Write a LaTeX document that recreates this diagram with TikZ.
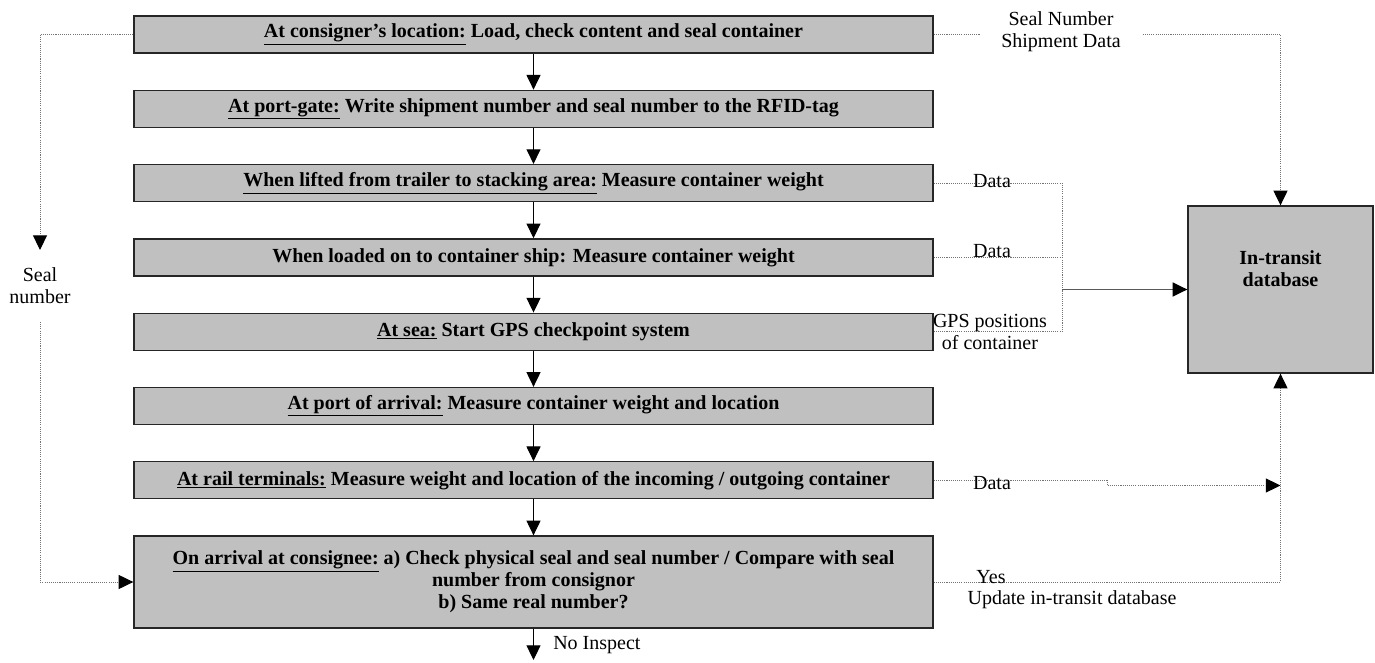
\documentclass[tikz,border=0pt]{standalone}
\usepackage{fontspec}
\setmainfont{Liberation Serif}
\usetikzlibrary{arrows.meta}
\definecolor{boxgray}{RGB}{192,192,192}
\begin{document}
\begin{tikzpicture}[x=0.75pt,y=-0.75pt,
  font=\fontsize{15}{16.5}\selectfont,
  stage/.style={draw=black!85, line width=1pt, fill=boxgray,
    minimum width=599.25pt, minimum height=27.75pt, inner sep=0pt,
    align=center, font=\fontsize{15}{16.5}\selectfont\bfseries},
  tip/.style={-{Triangle[length=11pt,width=10.5pt,black]}},
  flow/.style={black, line width=0.75pt, tip},
  feed/.style={black!55, line width=0.75pt, dash pattern=on 0.8pt off 0.8pt},
  lbl/.style={inner sep=0pt, align=center}
]
\useasboundingbox (0,0) rectangle (1375,663);

% process stages
\node[stage] (b1) at (533.5,34.5) {\underline{At consigner’s location:} Load, check content and seal container};
\node[stage] (b2) at (533.5,108.8) {\underline{At port-gate:} Write shipment number and seal number to the RFID-tag};
\node[stage] (b3) at (533.5,183.1) {\underline{When lifted from trailer to stacking area:} Measure container weight};
\node[stage] (b4) at (533.5,257.4) {When loaded on to container ship: Measure container weight};
\node[stage] (b5) at (533.5,331.7) {\underline{At sea:} Start GPS checkpoint system};
\node[stage] (b6) at (533.5,406) {\underline{At port of arrival:} Measure container weight and location};
\node[stage] (b7) at (533.5,480.3) {\underline{At rail terminals:} Measure weight and location of the incoming / outgoing container};
\node[stage, minimum height=69pt] (b8) at (533.5,582) {\underline{On arrival at consignee:} a) Check physical seal and seal number / Compare with seal\\ number from consignor\\ b) Same real number?};

% database
\node[draw=black!85, line width=1pt, fill=boxgray, minimum width=138.75pt,
  minimum height=125.25pt, inner sep=0pt] (db) at (1280.5,289.5) {};
\node[lbl, font=\fontsize{15}{16.5}\selectfont\bfseries] (dbname) at (1280.5,269) {In-transit\\database};

% main flow
\draw[flow] (b1.south) -- (b2.north);
\draw[flow] (b2.south) -- (b3.north);
\draw[flow] (b3.south) -- (b4.north);
\draw[flow] (b4.south) -- (b5.north);
\draw[flow] (b5.south) -- (b6.north);
\draw[flow] (b6.south) -- (b7.north);
\draw[flow] (b7.south) -- (b8.north);
\coordinate (out) at (533.5,660);
\draw[flow] (b8.south) -- (out);
\node[lbl, anchor=west] (noinsp) at (553,645) {No Inspect};

% seal number path on the left
\coordinate (sa) at (40,250);
\coordinate (sb) at (40,322);
\draw[feed, tip] (b1.west) -| (sa);
\node[lbl] (seal) at (40,286) {Seal\\number};
\draw[feed, tip] (sb) |- (b8.west);

% seal number and shipment data to the database
\draw[feed, tip] (b1.east) -| (db.north);
\node[lbl, fill=white, minimum width=121.5pt, minimum height=36pt] (ship) at (1061,32) {Seal Number\\Shipment Data};

% measurement data collected into the database
\coordinate (jn) at (1062,289.5);
\draw[feed] (b3.east) -| (jn);
\draw[feed] (b5.east) -| (jn);
\draw[feed] (b4.east) -- (b4.east -| jn);
\draw[black!65, line width=1.1pt, tip] (jn) -- (db.west);
\node[lbl] (d1) at (992,181) {Data};
\node[lbl] (d2) at (992,251) {Data};
\node[lbl] (gps) at (990,332) {GPS positions\\of container};

% rail terminal data
\coordinate (j1) at (1107,480.3);
\coordinate (j2) at (1107,485.5);
\draw[feed, tip] (b7.east) -- (j1) -- (j2) -- (db.south |- j2);
\node[lbl] (d3) at (992,483) {Data};

% consignee check result
\draw[feed, tip] (b8.east) -| (db.south);
\node[lbl] (yes) at (991,577) {Yes};
\node[lbl] (upd) at (1072,600) {Update in-transit database};
\end{tikzpicture}
\end{document}
